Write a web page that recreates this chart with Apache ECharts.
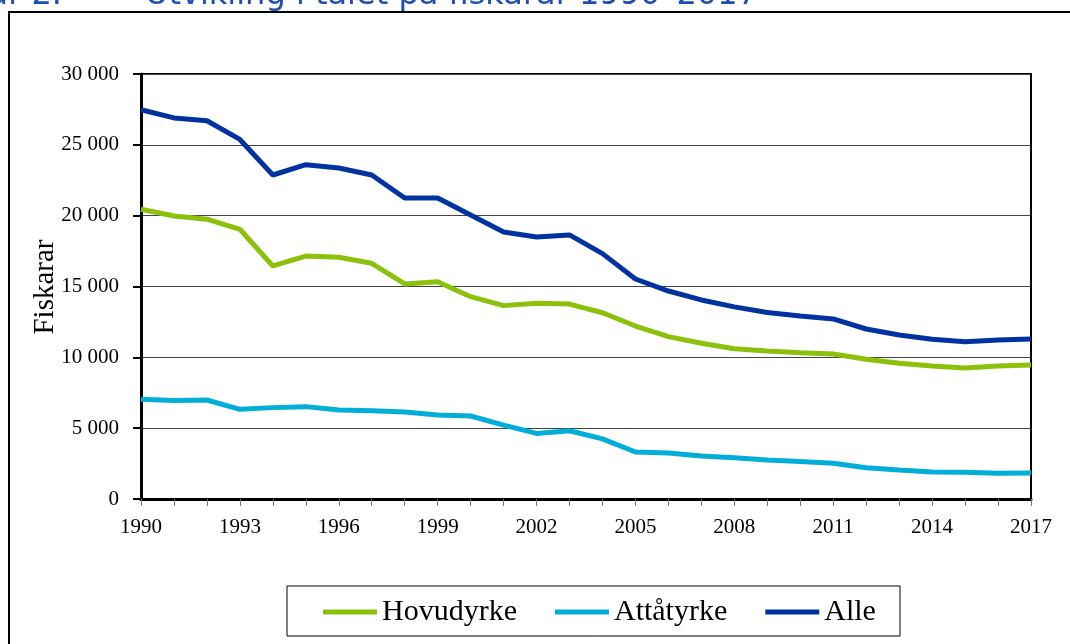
<!DOCTYPE html>
<html>
<head>
<meta charset="utf-8">
<script src="https://cdn.jsdelivr.net/npm/echarts@6/dist/echarts.min.js"></script>
<style>
html,body{margin:0;padding:0;background:#fff;}
#chart{width:1070px;height:644px;}
</style>
</head>
<body>
<div id="chart"></div>
<script>
const years = ["1990","1991","1992","1993","1994","1995","1996","1997","1998","1999","2000","2001","2002","2003","2004","2005","2006","2007","2008","2009","2010","2011","2012","2013","2014","2015","2016","2017"];
const hovudyrke = [20450,19980,19750,19040,16450,17150,17060,16640,15180,15340,14280,13650,13810,13760,13150,12210,11460,10990,10600,10450,10330,10240,9860,9580,9390,9250,9390,9460];
const attatyrke = [7040,6950,6990,6330,6450,6520,6280,6230,6140,5930,5860,5220,4630,4820,4240,3320,3250,3040,2920,2750,2640,2520,2210,2050,1910,1880,1810,1840];
const alle = [27480,26900,26700,25380,22870,23600,23360,22870,21250,21250,20050,18850,18500,18640,17320,15530,14680,14050,13560,13160,12920,12710,12000,11580,11280,11100,11220,11290];
const seriesNames = ["Hovudyrke","Attåtyrke","Alle"];
const titleNumber = "Figur 2.";
const titleText = "Utvikling i talet på fiskarar 1990–2017";
const yAxisName = "Fiskarar";

const colors = ["#8cc00a","#00aed8","#0033a0"];
const serif = "Liberation Serif";

const chart = echarts.init(document.getElementById('chart'));
const fmt = v => {
  const s = String(Math.round(v));
  return s.replace(/\B(?=(\d{3})+(?!\d))/g, " ");
};
function mkSeries(name, data, color){
  return {
    name: name, type: 'line', data: data, symbol: 'none',
    lineStyle: {color: color, width: 5},
    itemStyle: {color: color},
    animation: false
  };
}
chart.setOption({
  animation: false,
  backgroundColor: '#fff',
  grid: {left: 141, right: 39, top: 74, bottom: 145, show: true, borderColor: '#000', borderWidth: 2, containLabel: false},
  graphic: [
    {type: 'rect', shape: {x: 9, y: 12, width: 1100, height: 700}, style: {fill: 'none', stroke: '#000', lineWidth: 2}, z: 0},
    {type: 'text', x: 62, y: -20, style: {text: titleNumber, font: '32px "DejaVu Sans"', fill: '#1f4db5', align: 'right', verticalAlign: 'top'}},
    {type: 'text', x: 145, y: -20, style: {text: titleText, font: '32px "DejaVu Sans"', fill: '#1f4db5', align: 'left', verticalAlign: 'top'}},
    {type: 'text', x: 45, y: 287, rotation: Math.PI / 2, style: {text: yAxisName, font: '29px "Liberation Serif"', fill: '#000', align: 'center', verticalAlign: 'middle'}},
    {type: 'rect', shape: {x: 287, y: 586, width: 613, height: 50}, style: {fill: 'none', stroke: '#000', lineWidth: 1}}
  ],
  legend: {
    data: seriesNames,
    left: 323, top: 597,
    icon: 'rect',
    itemWidth: 54, itemHeight: 5, itemGap: 38, itemTextGap: 5,
    padding: 0,
    textStyle: {fontFamily: serif, fontSize: 30, color: '#000'}
  },
  xAxis: {
    type: 'category', data: years, boundaryGap: false,
    axisLine: {lineStyle: {color: '#000', width: 3}},
    axisTick: {show: true, interval: 0, length: 7, lineStyle: {color: '#777', width: 1}},
    axisLabel: {interval: 2, margin: 18, fontFamily: serif, fontSize: 21, color: '#000'},
    splitLine: {show: false}
  },
  yAxis: {
    type: 'value', min: 0, max: 30000, interval: 5000,
    axisLine: {show: true, lineStyle: {color: '#000', width: 3}},
    axisTick: {show: true, length: 8, lineStyle: {color: '#000', width: 2}},
    axisLabel: {margin: 22, fontFamily: serif, fontSize: 21, color: '#000', formatter: fmt},
    splitLine: {show: true, lineStyle: {color: '#444', width: 1}}
  },
  series: [
    mkSeries(seriesNames[0], hovudyrke, colors[0]),
    mkSeries(seriesNames[1], attatyrke, colors[1]),
    mkSeries(seriesNames[2], alle, colors[2])
  ]
});
</script>
</body>
</html>
